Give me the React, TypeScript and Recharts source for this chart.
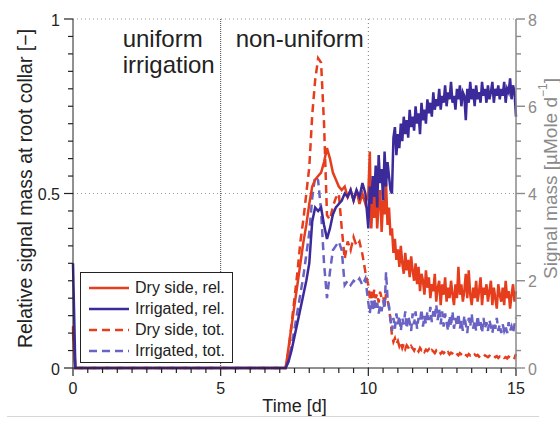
import React from "react";
import { ComposedChart, Line, XAxis, YAxis, ReferenceLine, Legend } from "recharts";

// time [d]
const TIME = [
  0, 0.08,
  7.2, 7.3, 7.4, 7.5, 7.6, 7.7, 7.8, 7.9, 8.0,
  8.1, 8.2, 8.3, 8.4, 8.5, 8.6, 8.7, 8.8, 8.9, 9.0,
  9.1, 9.2, 9.3, 9.4, 9.5, 9.6, 9.7, 9.8, 9.9, 10.0,
  10.05, 10.1, 10.15, 10.2, 10.25, 10.3, 10.35, 10.4, 10.45, 10.5,
  10.55, 10.6, 10.65, 10.7, 10.75, 10.8, 10.85, 10.9, 10.95, 11.0,
  11.05, 11.1, 11.15, 11.2, 11.25, 11.3, 11.35, 11.4, 11.45, 11.5,
  11.55, 11.6, 11.65, 11.7, 11.75, 11.8, 11.85, 11.9, 11.95, 12.0,
  12.05, 12.1, 12.15, 12.2, 12.25, 12.3, 12.35, 12.4, 12.45, 12.5,
  12.55, 12.6, 12.65, 12.7, 12.75, 12.8, 12.85, 12.9, 12.95, 13.0,
  13.05, 13.1, 13.15, 13.2, 13.25, 13.3, 13.35, 13.4, 13.45, 13.5,
  13.55, 13.6, 13.65, 13.7, 13.75, 13.8, 13.85, 13.9, 13.95, 14.0,
  14.05, 14.1, 14.15, 14.2, 14.25, 14.3, 14.35, 14.4, 14.45, 14.5,
  14.55, 14.6, 14.65, 14.7, 14.75, 14.8, 14.85, 14.9, 14.95, 15.0,
];

// relative signal mass [-]
const DRY_REL = [
  0.12, 0,
  0, 0.06, 0.12, 0.18, 0.24, 0.3, 0.36, 0.41, 0.47,
  0.52, 0.54, 0.55, 0.56, 0.59, 0.63, 0.6, 0.56, 0.54, 0.52,
  0.51, 0.52, 0.49, 0.51, 0.48, 0.51, 0.47, 0.5, 0.47, 0.5,
  0.62, 0.4, 0.49, 0.43, 0.52, 0.4, 0.47, 0.51, 0.39, 0.48,
  0.44, 0.53, 0.41, 0.46, 0.38, 0.4, 0.33, 0.37, 0.31, 0.34,
  0.29, 0.35, 0.3, 0.27, 0.33, 0.28, 0.31, 0.26, 0.32, 0.28,
  0.25, 0.3, 0.24, 0.29, 0.22, 0.27, 0.25, 0.21, 0.28, 0.23,
  0.26, 0.2, 0.24, 0.22, 0.27, 0.19, 0.23, 0.25, 0.18, 0.24,
  0.21, 0.26, 0.19, 0.23, 0.2, 0.25, 0.21, 0.18, 0.24, 0.2,
  0.29, 0.21, 0.24, 0.19, 0.22, 0.27, 0.2, 0.28, 0.21, 0.18,
  0.23, 0.2, 0.25, 0.19, 0.22, 0.26, 0.18, 0.23, 0.21, 0.24,
  0.19, 0.22, 0.25, 0.18, 0.23, 0.2, 0.17, 0.24, 0.21, 0.19,
  0.23, 0.18, 0.25, 0.2, 0.22, 0.17, 0.21, 0.24, 0.19, 0.22,
];
const IRR_REL = [
  0.3, 0,
  0, 0.02, 0.05, 0.09, 0.13, 0.17, 0.21, 0.25, 0.3,
  0.42, 0.46, 0.45, 0.46, 0.41, 0.37, 0.4, 0.44, 0.46, 0.47,
  0.48, 0.5, 0.49, 0.51, 0.48, 0.51, 0.49, 0.53, 0.5, 0.4,
  0.52, 0.47, 0.55, 0.49, 0.58, 0.46, 0.61, 0.53, 0.57, 0.48,
  0.62, 0.52, 0.59, 0.55, 0.51, 0.5, 0.66, 0.69, 0.61, 0.67,
  0.63, 0.7, 0.65, 0.72, 0.67, 0.71, 0.66, 0.74, 0.69, 0.72,
  0.68, 0.75, 0.7, 0.73, 0.67, 0.76, 0.71, 0.74, 0.7, 0.77,
  0.73, 0.76, 0.72, 0.79, 0.74, 0.77, 0.75, 0.8, 0.74, 0.78,
  0.76, 0.81, 0.75, 0.79, 0.77, 0.82, 0.76, 0.78, 0.74, 0.8,
  0.77, 0.81, 0.75, 0.79, 0.78, 0.71, 0.8, 0.76, 0.82, 0.77,
  0.8, 0.75, 0.81, 0.77, 0.79, 0.76, 0.82, 0.78, 0.8, 0.76,
  0.81, 0.77, 0.79, 0.82, 0.76, 0.8, 0.78, 0.81, 0.77, 0.8,
  0.78, 0.82, 0.76, 0.8, 0.79, 0.83, 0.77, 0.81, 0.79, 0.72,
];

// signal mass [µMole/d]
const DRY_TOT = [
  0.9, 0,
  0, 0.4, 1.0, 1.6, 2.2, 2.9, 3.4, 4.0, 4.6,
  5.8, 6.6, 7.1, 7.0, 5.6, 3.5, 3.4, 3.7, 3.9, 4.0,
  3.2, 2.5, 2.9, 2.7, 3.0, 2.8, 2.9, 2.6, 2.2, 1.9,
  1.6, 1.75, 1.55, 1.8, 1.6, 1.7, 1.5, 1.75, 1.6, 1.65,
  1.45, 1.7, 1.55, 1.4, 1.1, 0.75, 0.6, 0.68, 0.55, 0.62,
  0.5, 0.58, 0.46, 0.55, 0.44, 0.52, 0.47, 0.42, 0.5, 0.45,
  0.4, 0.48, 0.43, 0.38, 0.46, 0.41, 0.44, 0.37, 0.42, 0.39,
  0.43, 0.36, 0.41, 0.38, 0.34, 0.4, 0.36, 0.39, 0.33, 0.37,
  0.34, 0.38, 0.32, 0.36, 0.31, 0.35, 0.33, 0.3, 0.35, 0.32,
  0.29, 0.34, 0.31, 0.28, 0.33, 0.3, 0.27, 0.32, 0.29, 0.31,
  0.27, 0.31, 0.28, 0.3, 0.26, 0.29, 0.27, 0.25, 0.29, 0.27,
  0.25, 0.28, 0.26, 0.24, 0.28, 0.25, 0.27, 0.23, 0.26, 0.24,
  0.27, 0.23, 0.25, 0.22, 0.26, 0.24, 0.21, 0.25, 0.23, 0.32,
];
const IRR_TOT = [
  0.8, 0,
  0, 0.15, 0.5, 0.9, 1.3, 1.7, 2.1, 2.6, 3.1,
  3.9, 4.4, 4.3, 3.6, 2.4, 1.6, 2.2, 2.7, 2.8, 2.9,
  2.7, 1.9, 2.0, 1.9, 2.0, 1.95, 2.05, 1.9, 2.05, 1.5,
  1.25, 1.55, 1.3, 1.6, 1.35, 1.5, 1.25, 1.45, 1.3, 1.55,
  1.35, 2.2, 1.6, 1.4, 1.1, 0.85, 1.15, 0.9, 1.25, 1.0,
  1.2, 0.85, 1.15, 1.0, 1.3, 0.9, 1.2, 1.05, 0.85, 1.25,
  1.0, 1.3, 0.9, 1.15, 1.05, 1.35, 0.95, 1.2, 1.0, 1.3,
  1.1, 1.4, 1.05, 1.3, 1.15, 1.45, 1.1, 1.35, 1.0, 1.3,
  0.95, 1.25, 1.05, 0.85, 1.2, 0.95, 1.3, 0.9, 1.15, 0.95,
  1.25, 0.9, 1.1, 0.85, 1.2, 1.0, 0.8, 1.15, 0.95, 1.25,
  0.9, 1.1, 0.85, 1.2, 0.95, 1.05, 0.8, 1.15, 0.9, 1.05,
  0.85, 1.1, 0.95, 0.8, 1.05, 0.9, 1.15, 0.85, 1.0, 0.8,
  1.0, 0.85, 0.95, 0.8, 1.05, 0.85, 0.95, 0.8, 1.0, 1.15,
];

const X_TICKS = [
  0, 0.5, 1, 1.5, 2, 2.5, 3, 3.5, 4, 4.5, 5, 5.5, 6, 6.5, 7, 7.5,
  8, 8.5, 9, 9.5, 10, 10.5, 11, 11.5, 12, 12.5, 13, 13.5, 14, 14.5, 15,
];
const X_LABELS = [0, 5, 10, 15];
const LEFT_TICKS = [
  0, 0.05, 0.1, 0.15, 0.2, 0.25, 0.3, 0.35, 0.4, 0.45, 0.5,
  0.55, 0.6, 0.65, 0.7, 0.75, 0.8, 0.85, 0.9, 0.95, 1,
];
const LEFT_LABELS = [0, 0.5, 1];
const RIGHT_TICKS = [
  0, 0.4, 0.8, 1.2, 1.6, 2, 2.4, 2.8, 3.2, 3.6, 4,
  4.4, 4.8, 5.2, 5.6, 6, 6.4, 6.8, 7.2, 7.6, 8,
];
const RIGHT_LABELS = [0, 2, 4, 6, 8];

const SERIES_ORDER = ["dryRel", "irrRel", "dryTot", "irrTot"];

const data = TIME.map((t, i) => ({
  t,
  dryRel: DRY_REL[i],
  irrRel: IRR_REL[i],
  dryTot: DRY_TOT[i],
  irrTot: IRR_TOT[i],
}));

const FONT = '"Liberation Sans", Arial, sans-serif';
const RED = "#e63d1c";
const BLUE = "#3b2a9a";
const LIGHT_BLUE = "#6a63c4";
const GREY = "#8a8a8a";
const INK = "#222";

// tick props arrive at the outer end of the built-in (minor) tick line
const XTick = ({ x, y, payload }: any) => {
  const major = X_LABELS.includes(payload.value);
  if (!major) return <g />;
  return (
    <g>
      <line x1={x} x2={x} y1={y} y2={y + 3} stroke={INK} strokeWidth={1.2} />
      <text x={x} y={y + 15} textAnchor="middle" dominantBaseline="central" fontSize={16} fill={INK}>
        {payload.value}
      </text>
    </g>
  );
};

const LeftTick = ({ x, y, payload }: any) => {
  const major = LEFT_LABELS.includes(payload.value);
  if (!major) return <g />;
  return (
    <g>
      <line x1={x} x2={x - 4} y1={y} y2={y} stroke={INK} strokeWidth={1.2} />
      <text x={x - 8} y={y + 1} textAnchor="end" dominantBaseline="central" fontSize={16} fill={INK}>
        {payload.value}
      </text>
    </g>
  );
};

const RightTick = ({ x, y, payload }: any) => {
  const major = RIGHT_LABELS.includes(payload.value);
  if (!major) return <g />;
  return (
    <g>
      <line x1={x} x2={x + 4} y1={y} y2={y} stroke={GREY} strokeWidth={1.4} />
      <text x={x + 7} y={y + 1} textAnchor="start" dominantBaseline="central" fontSize={16} fill={GREY}>
        {payload.value}
      </text>
    </g>
  );
};

const renderLegend = (props: any) => {
  const items = [...(props.payload ?? [])].sort(
    (a: any, b: any) => SERIES_ORDER.indexOf(a.dataKey) - SERIES_ORDER.indexOf(b.dataKey)
  );
  return (
    <div
      style={{
        border: "1.3px solid #222",
        background: "#fff",
        padding: "4px 6px 2px 7px",
        fontFamily: FONT,
        boxSizing: "border-box",
        width: 153,
        height: 91,
      }}
    >
      {items.map((e: any) => (
        <div key={e.dataKey} style={{ display: "flex", alignItems: "center", height: 21 }}>
          <svg width={42} height={10}>
            <line
              x1={1}
              x2={41}
              y1={5}
              y2={5}
              stroke={e.color}
              strokeWidth={2.5}
              strokeDasharray={e.payload?.strokeDasharray}
            />
          </svg>
          <span style={{ fontSize: 16, marginLeft: 5, color: INK, whiteSpace: "nowrap" }}>{e.value}</span>
        </div>
      ))}
    </div>
  );
};

const PhaseLabel = ({ viewBox }: any) => {
  const x = viewBox?.x ?? 220;
  const y = viewBox?.y ?? 19;
  return (
    <g fontSize={24} fill={INK} fontFamily={FONT}>
      <text x={x - 98} y={y + 28}>uniform</text>
      <text x={x - 98} y={y + 54}>irrigation</text>
      <text x={x + 15} y={y + 28}>non-uniform</text>
    </g>
  );
};

const LeftTitle = ({ viewBox }: any) => {
  const cx = (viewBox?.x ?? 0) + 25;
  const cy = (viewBox?.y ?? 19) + (viewBox?.height ?? 349) / 2 - 5;
  return (
    <text
      x={cx}
      y={cy}
      transform={`rotate(-90 ${cx} ${cy})`}
      textAnchor="middle"
      dominantBaseline="central"
      fontSize={19.5}
      fill={INK}
    >
      Relative signal mass at root collar [−]
    </text>
  );
};

const RightTitle = ({ viewBox }: any) => {
  const cx = (viewBox?.x ?? 516) + 34;
  const cy = (viewBox?.y ?? 19) + (viewBox?.height ?? 349) / 2 - 15;
  return (
    <text
      x={cx}
      y={cy}
      transform={`rotate(-90 ${cx} ${cy})`}
      textAnchor="middle"
      dominantBaseline="central"
      fontSize={19}
      fill={GREY}
    >
      Signal mass [µMole d
      <tspan dy={-7} fontSize={12}>−1</tspan>
      <tspan dy={7}>]</tspan>
    </text>
  );
};

const XTitle = ({ viewBox }: any) => {
  const cx = (viewBox?.x ?? 73) + (viewBox?.width ?? 443) / 2;
  const cy = (viewBox?.y ?? 368) + 38;
  return (
    <text x={cx} y={cy} textAnchor="middle" dominantBaseline="central" fontSize={18} fill={INK}>
      Time [d]
    </text>
  );
};

export default function App() {
  return (
    <div style={{ position: "absolute", left: 0, top: 0, width: 560, height: 421, background: "#fff", fontFamily: FONT }}>
      <ComposedChart
        width={560}
        height={421}
        data={data}
        margin={{ top: 19, right: 0, bottom: 0, left: 0 }}
        style={{ fontFamily: FONT }}
      >
        <XAxis
          dataKey="t"
          type="number"
          domain={[0, 15]}
          ticks={X_TICKS}
          interval={0}
          height={53}
          tickSize={5}
          tickMargin={0}
          tickLine={{ stroke: INK, strokeWidth: 1.2 }}
          tick={<XTick />}
          stroke={INK}
          label={{ content: <XTitle /> }}
        />
        <YAxis
          yAxisId="left"
          domain={[0, 1]}
          ticks={LEFT_TICKS}
          interval={0}
          width={73}
          tickSize={5}
          tickMargin={0}
          tickLine={{ stroke: INK, strokeWidth: 1.2 }}
          tick={<LeftTick />}
          stroke={INK}
          label={{ content: <LeftTitle /> }}
        />
        <YAxis
          yAxisId="right"
          orientation="right"
          domain={[0, 8]}
          ticks={RIGHT_TICKS}
          interval={0}
          width={44}
          tickSize={5}
          tickMargin={0}
          tickLine={{ stroke: GREY, strokeWidth: 1.4 }}
          tick={<RightTick />}
          stroke={GREY}
          strokeWidth={1.5}
          label={{ content: <RightTitle /> }}
        />
        <ReferenceLine yAxisId="left" y={0.5} stroke="#9a9a9a" strokeDasharray="1 3" />
        <ReferenceLine yAxisId="left" y={1} stroke="#9a9a9a" strokeDasharray="1 3" />
        <ReferenceLine yAxisId="left" x={10} stroke="#777" strokeDasharray="1 3" />
        <ReferenceLine yAxisId="left" x={5} stroke="#444" strokeDasharray="1 1" label={{ content: <PhaseLabel /> }} />
        <Line
          yAxisId="right"
          dataKey="dryTot"
          name="Dry side, tot."
          type="linear"
          stroke={RED}
          strokeWidth={2.5}
          strokeDasharray="8 5"
          dot={false}
          isAnimationActive={false}
        />
        <Line
          yAxisId="right"
          dataKey="irrTot"
          name="Irrigated, tot."
          type="linear"
          stroke={LIGHT_BLUE}
          strokeWidth={2.5}
          strokeDasharray="8 5"
          dot={false}
          isAnimationActive={false}
        />
        <Line
          yAxisId="left"
          dataKey="dryRel"
          name="Dry side, rel."
          type="linear"
          stroke={RED}
          strokeWidth={2.5}
          dot={false}
          isAnimationActive={false}
        />
        <Line
          yAxisId="left"
          dataKey="irrRel"
          name="Irrigated, rel."
          type="linear"
          stroke={BLUE}
          strokeWidth={2.5}
          dot={false}
          isAnimationActive={false}
        />
        <Legend
          layout="vertical"
          align="center"
          verticalAlign="middle"
          content={renderLegend}
          wrapperStyle={{ position: "absolute", left: 80, top: 272, width: 153, height: 91 }}
        />
      </ComposedChart>
      <div style={{ position: "absolute", left: 7, top: 416, width: 532, height: 1, background: "#d6d6d6" }} />
    </div>
  );
}
